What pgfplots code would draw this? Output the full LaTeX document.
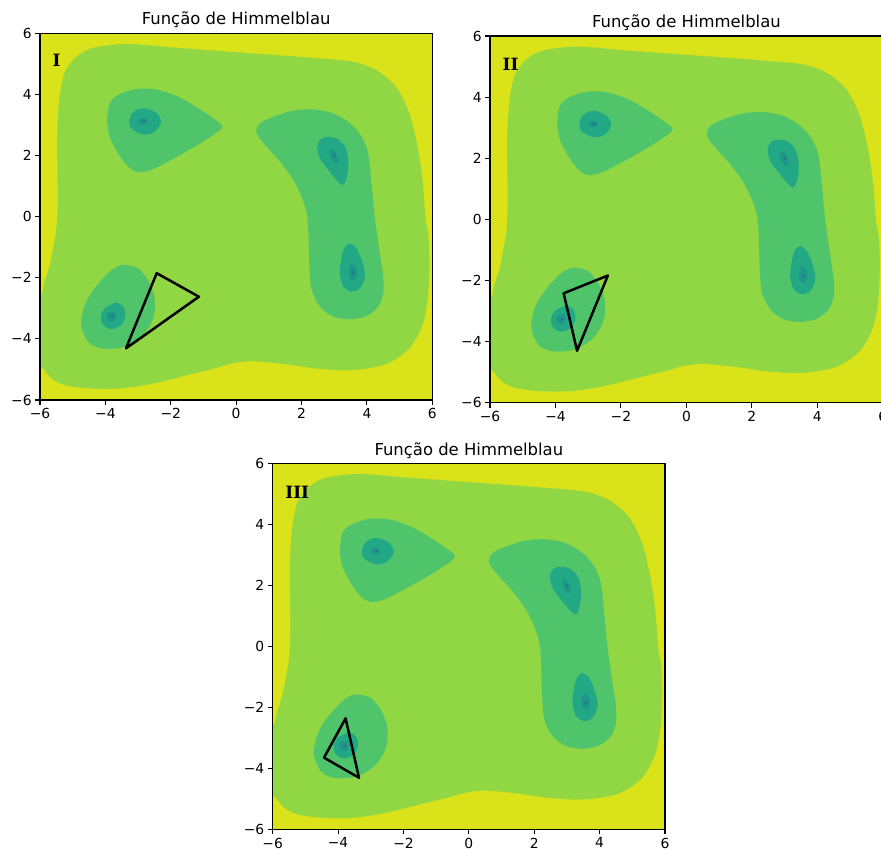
\documentclass[border=0pt]{standalone}
\usepackage{fontspec}
\setmainfont{DejaVu Sans}
\newfontfamily\serifb{DejaVu Serif}
\usepackage{pgfplots}
\usepackage{pgfplotstable}
\pgfplotsset{compat=1.18}

\definecolor{yellowc}{RGB}{218,226,25}
\definecolor{lightg}{RGB}{145,215,67}
\definecolor{medg}{RGB}{80,196,106}
\definecolor{tealc}{RGB}{34,168,132}
\definecolor{darkone}{RGB}{31,150,138}
\definecolor{darktwo}{RGB}{42,120,142}

% outer contour (light green region)
\pgfplotstableread{
x y
-6.2 -2.65
-5.96 -2.56
-5.86 -2.13
-5.70 -1.58
-5.60 -1.03
-5.51 -0.49
-5.47 0.06
-5.46 0.80
-5.47 1.60
-5.47 2.84
-5.40 3.93
-5.25 4.69
-4.94 5.18
-4.43 5.51
-3.51 5.65
-2.80 5.62
-1.98 5.54
0.05 5.38
1.22 5.29
2.54 5.18
3.56 5.07
4.28 4.80
4.89 4.25
5.30 3.38
5.55 2.29
5.70 1.20
5.80 -0.10
5.88 -0.60
5.91 -1.58
5.86 -2.67
5.70 -3.54
5.30 -4.31
4.58 -4.83
3.56 -5.02
2.54 -4.98
1.52 -4.83
0.50 -4.73
-0.10 -4.80
-0.60 -4.95
-1.47 -5.18
-2.49 -5.45
-3.51 -5.62
-4.53 -5.62
-5.25 -5.51
-5.65 -5.29
-5.96 -4.91
-6.2 -4.90
}\outerT

% second level: three basins
\pgfplotstableread{
x y
-3.95 3.16
-3.87 3.71
-3.61 3.98
-3.10 4.17
-2.49 4.17
-1.78 3.93
-1.07 3.49
-0.56 3.11
-0.42 2.95
-0.56 2.78
-1.17 2.35
-1.98 1.86
-2.60 1.53
-3.00 1.45
-3.31 1.64
-3.61 2.07
-3.87 2.62
-3.95 3.16
}\tlT

\pgfplotstableread{
x y
0.61 2.81
0.73 3.06
1.13 3.27
1.75 3.47
2.36 3.51
2.97 3.38
3.48 3.06
3.84 2.62
4.04 2.07
4.14 1.09
4.24 0.00
4.38 -1.09
4.50 -1.96
4.50 -2.51
4.35 -2.94
3.99 -3.25
3.48 -3.36
2.97 -3.27
2.56 -2.94
2.31 -2.40
2.24 -1.64
2.21 -0.54
2.16 0.11
2.00 0.65
1.75 1.20
1.34 1.80
0.93 2.29
0.68 2.62
0.61 2.81
}\kidT

\pgfplotstableread{
x y
-3.36 -1.58
-3.00 -1.69
-2.70 -2.07
-2.51 -2.56
-2.49 -3.11
-2.65 -3.60
-3.00 -4.03
-3.51 -4.29
-4.13 -4.31
-4.53 -4.09
-4.74 -3.54
-4.63 -2.89
-4.33 -2.34
-3.87 -1.80
-3.56 -1.60
-3.36 -1.58
}\blT

% third level
\pgfplotstableread{
x y
-3.27 3.11
-3.20 3.35
-3.00 3.52
-2.75 3.54
-2.45 3.40
-2.30 3.15
-2.38 2.90
-2.60 2.72
-2.85 2.69
-3.10 2.80
-3.25 2.95
-3.27 3.11
}\tltT

\pgfplotstableread{
x y
2.56 2.51
2.72 2.60
3.07 2.56
3.33 2.29
3.43 1.86
3.40 1.36
3.28 1.04
3.12 1.15
2.82 1.53
2.56 1.91
2.48 2.29
2.56 2.51
}\rutT

\pgfplotstableread{
x y
3.48 -0.87
3.68 -1.03
3.87 -1.53
3.94 -1.96
3.79 -2.34
3.53 -2.45
3.28 -2.29
3.17 -1.85
3.23 -1.31
3.33 -0.98
3.48 -0.87
}\rltT

\pgfplotstableread{
x y
-3.67 -2.80
-3.46 -2.94
-3.39 -3.22
-3.51 -3.54
-3.82 -3.68
-4.07 -3.54
-4.14 -3.27
-4.02 -3.00
-3.67 -2.80
}\bltT

% fourth level
\pgfplotstableread{
x y
-3.00 3.12
-2.95 3.20
-2.85 3.23
-2.75 3.20
-2.70 3.12
-2.75 3.04
-2.85 3.01
-2.95 3.04
-3.00 3.12
}\tldT

\pgfplotstableread{
x y
2.87 2.20
2.98 2.18
3.08 2.02
3.12 1.80
3.05 1.74
2.95 1.85
2.86 2.02
2.87 2.20
}\rudT

\pgfplotstableread{
x y
3.55 -1.53
3.66 -1.65
3.71 -1.85
3.65 -2.03
3.56 -2.08
3.47 -2.00
3.44 -1.80
3.48 -1.62
3.55 -1.53
}\rldT

\pgfplotstableread{
x y
-3.72 -3.11
-3.67 -3.22
-3.72 -3.38
-3.83 -3.44
-3.95 -3.35
-3.97 -3.22
-3.88 -3.12
-3.72 -3.11
}\bldT

% innermost dots
\pgfplotstableread{
x y
-2.88 3.13
-2.82 3.17
-2.76 3.13
-2.82 3.09
-2.88 3.13
}\tlcT
\pgfplotstableread{
x y
2.95 2.00
3.00 2.05
3.05 1.98
3.00 1.93
2.95 2.00
}\rucT
\pgfplotstableread{
x y
3.53 -1.83
3.58 -1.77
3.63 -1.83
3.58 -1.90
3.53 -1.83
}\rlcT
\pgfplotstableread{
x y
-3.84 -3.27
-3.79 -3.21
-3.74 -3.27
-3.79 -3.33
-3.84 -3.27
}\blcT

% triangles
\pgfplotstableread{
x y
-2.43 -1.85
-1.14 -2.62
-3.37 -4.31
}\triI
\pgfplotstableread{
x y
-2.40 -1.84
-3.75 -2.42
-3.34 -4.30
}\triII
\pgfplotstableread{
x y
-3.77 -2.36
-4.43 -3.65
-3.36 -4.31
}\triIII

\newcommand{\himmel}{%
  \addplot[draw=none, fill=lightg, smooth] table {\outerT};
  \addplot[draw=none, fill=medg, smooth] table {\tlT};
  \addplot[draw=none, fill=medg, smooth] table {\kidT};
  \addplot[draw=none, fill=medg, smooth] table {\blT};
  \addplot[draw=none, fill=tealc, smooth] table {\tltT};
  \addplot[draw=none, fill=tealc, smooth] table {\rutT};
  \addplot[draw=none, fill=tealc, smooth] table {\rltT};
  \addplot[draw=none, fill=tealc, smooth] table {\bltT};
  \addplot[draw=none, fill=darkone, smooth] table {\tldT};
  \addplot[draw=none, fill=darkone, smooth] table {\rudT};
  \addplot[draw=none, fill=darkone, smooth] table {\rldT};
  \addplot[draw=none, fill=darkone, smooth] table {\bldT};
  \addplot[draw=none, fill=darktwo, smooth] table {\tlcT};
  \addplot[draw=none, fill=darktwo, smooth] table {\rucT};
  \addplot[draw=none, fill=darktwo, smooth] table {\rlcT};
  \addplot[draw=none, fill=darktwo, smooth] table {\blcT};
}

\pgfplotsset{
  himstyle/.style={
    scale only axis,
    xmin=-6, xmax=6, ymin=-6, ymax=6,
    axis on top,
    axis background/.style={fill=yellowc},
    xtick={-6,-4,-2,0,2,4,6},
    ytick={-6,-4,-2,0,2,4,6},
    xticklabels={−6,−4,−2,0,2,4,6},
    yticklabels={−6,−4,−2,0,2,4,6},
    xtick pos=bottom, ytick pos=left,
    tick align=outside,
    major tick length=4.9bp,
    every tick/.style={black, line width=1.1bp},
    axis line style={line width=1.1bp},
    tick label style={font=\fontsize{13.9}{14}\selectfont},
    every axis title shift=0pt,
    title style={font=\fontsize{16.5}{17}\selectfont, at={(0.5,1)}, anchor=base, yshift=8.3bp},
    title={Função de Himmelblau},
    clip=true,
  },
}
\tikzset{
  tristyle/.style={black, line width=2.5bp, line join=round},
  lbl/.style={anchor=base west, inner sep=0pt, font=\serifb\bfseries\fontsize{17}{17}\selectfont},
}

\begin{document}
\begin{tikzpicture}
\path[use as bounding box] (0,0) rectangle (881bp,-850bp);

\begin{axis}[himstyle, at={(40bp,-400bp)}, anchor=south west, width=392.3bp, height=366.7bp]
\himmel
\addplot[tristyle, no markers] table {\triI} -- cycle;
\node[lbl] at (axis cs:-5.62,4.92) {I};
\end{axis}

\begin{axis}[himstyle, at={(490bp,-402.7bp)}, anchor=south west, width=392.8bp, height=366.7bp]
\himmel
\addplot[tristyle, no markers] table {\triII} -- cycle;
\node[lbl] at (axis cs:-5.62,4.86) {II};
\end{axis}

\begin{axis}[himstyle, at={(272.7bp,-829.3bp)}, anchor=south west, width=392.3bp, height=366bp]
\himmel
\addplot[tristyle, no markers] table {\triIII} -- cycle;
\node[lbl] at (axis cs:-5.62,4.86) {III};
\end{axis}
\end{tikzpicture}
\end{document}
